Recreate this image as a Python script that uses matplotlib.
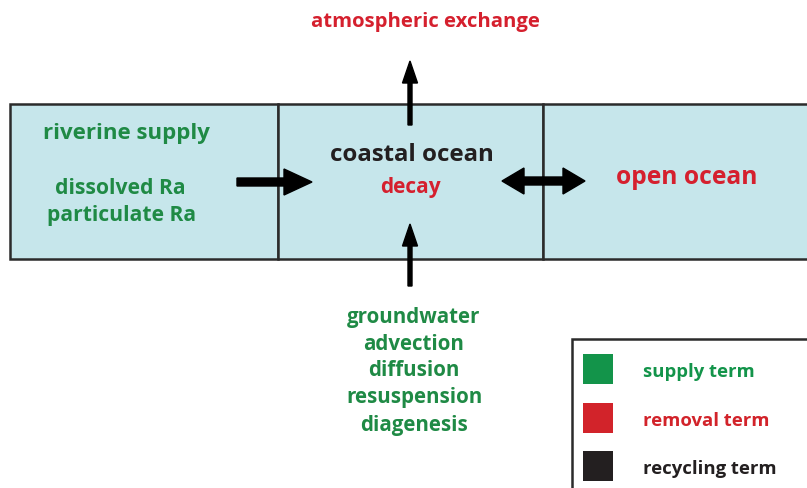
import matplotlib.pyplot as plt
from matplotlib.patches import Rectangle

# diagram text
box_titles = ['riverine supply', 'coastal ocean', 'open ocean']
river_terms = ['dissolved Ra', 'particulate Ra']
bottom_terms = ['groundwater', 'advection', 'diffusion', 'resuspension', 'diagenesis']
top_term = 'atmospheric exchange'
center_term = 'decay'
legend_labels = ['supply term', 'removal term', 'recycling term']

green = '#1f8a45'
red = '#d5202e'
black = '#231f20'
legend_colors = ['#13944a', '#d2232a', '#231f20']
font = 'Open Sans'

fig = plt.figure(figsize=(8.07, 4.89), dpi=100)
ax = fig.add_axes([0, 0, 1, 1])
ax.set_xlim(0, 807)
ax.set_ylim(489, 0)
ax.axis('off')

# three compartments
for x0, x1 in [(10, 278), (278, 543), (543, 830)]:
    ax.add_patch(Rectangle((x0, 105), x1 - x0, 155, facecolor='#c6e6eb',
                           edgecolor='#2b2b2b', lw=1.8))

def label(x, y, s, color, size=14.8):
    # small offset: bbox centre sits a bit above the visual centre
    ax.text(x, y + 2, s, color=color, fontsize=size, fontweight='bold',
            family=font, ha='center', va='center')

label(126, 131, box_titles[0], green, 16)
label(120, 187, river_terms[0], green, 15.2)
label(122, 213, river_terms[1], green, 15.2)
label(412, 153, box_titles[1], black, 17.3)
label(410, 185, center_term, red, 15)
label(687, 175, box_titles[2], red, 17.7)
label(425, 20, top_term, red, 14.6)
for i, s in enumerate(bottom_terms):
    label(414, 315 + 27 * i, s, green)

# arrows
ax.arrow(237, 183, 75, 0, width=8, head_width=26, head_length=28,
         length_includes_head=True, color='black')
ax.arrow(543, 182, -41, 0, width=8, head_width=26, head_length=22,
         length_includes_head=True, color='black')
ax.arrow(543, 182, 42, 0, width=8, head_width=26, head_length=22,
         length_includes_head=True, color='black')
ax.arrow(410, 126, 0, -64, width=4, head_width=15, head_length=22,
         length_includes_head=True, color='black')
ax.arrow(410, 287, 0, -62, width=4, head_width=15, head_length=22,
         length_includes_head=True, color='black')

# legend box
ax.add_patch(Rectangle((572, 340), 260, 170, facecolor='white',
                       edgecolor='#2b2b2b', lw=1.8))
for i, (s, c) in enumerate(zip(legend_labels, legend_colors)):
    y = 370 + 48.5 * i
    ax.add_patch(Rectangle((583, y - 15), 30, 30, facecolor=c, edgecolor='none'))
    ax.text(643, y + 2, s, color=c, fontsize=13.3, fontweight='bold',
            family=font, ha='left', va='center')

fig.savefig('out.png', dpi=100)
